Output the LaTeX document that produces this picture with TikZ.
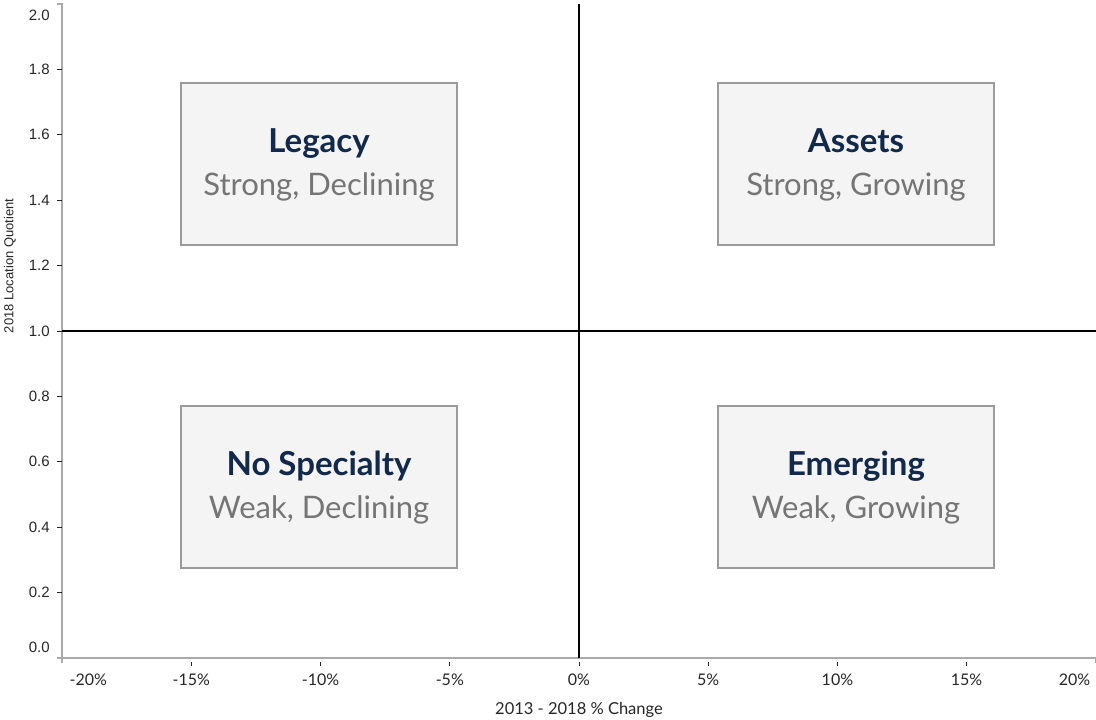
\documentclass[tikz,border=0pt]{standalone}
\usepackage{fontspec}
\setmainfont{Lato}
\newfontfamily\helv{Liberation Sans}
\usepackage{xcolor}
\usepackage{tikz}
\usetikzlibrary{calc}
\definecolor{navy}{HTML}{13294B}
\definecolor{subgray}{HTML}{757575}
\definecolor{axisgray}{HTML}{AAAAAA}
\definecolor{tickdark}{HTML}{262626}
\definecolor{boxfill}{HTML}{F4F4F4}
\definecolor{boxline}{HTML}{9A9A9A}
\tikzset{
  axis/.style={draw=axisgray, line width=1.6pt},
  tickmark/.style={draw=tickdark, line width=0.9pt},
  quadline/.style={draw=black, line width=2.5pt},
  quadbox/.style={draw=boxline, fill=boxfill, line width=1.4pt,
    minimum width=276pt, minimum height=162pt, inner sep=0pt},
  qtitle/.style={text=navy, font=\fontsize{33}{38}\selectfont\bfseries, anchor=base},
  qsub/.style={text=subgray, font=\fontsize{31}{36}\selectfont, anchor=base},
  xlbl/.style={text=tickdark, font=\fontsize{16}{19}\selectfont},
  ylbl/.style={text=tickdark, font=\helv\fontsize{15}{18}\selectfont, anchor=east},
  atitle/.style={text=tickdark, font=\fontsize{16.5}{20}\selectfont}
}

\begin{document}
\begin{tikzpicture}[x=25.84pt, y=327pt]
  \useasboundingbox (-22.407,-0.18654) rectangle (20.007,2.01223);

  % axes with outer ticks
  \draw[axis] ([xshift=-5pt]-20,2) -- (-20,2) -- (-20,0) -- ([xshift=-5pt]-20,0);
  \draw[axis] ([yshift=-5pt]-20,0) -- (-20,0) -- (20,0) -- ([yshift=-5pt]20,0);

  % y ticks
  \foreach \y in {0.2,0.4,...,1.8}
    \draw[tickmark] ([xshift=-5pt]-20,\y) -- (-20,\y);
  \foreach \y/\t in {0.2/0.2,0.4/0.4,0.6/0.6,0.8/0.8,1.0/1.0,1.2/1.2,1.4/1.4,1.6/1.6,1.8/1.8}
    \node[ylbl] (ytick\t) at ([xshift=-9pt]-20,\y) {\t};
  \node[ylbl] (ytop) at ([xshift=-9pt,yshift=-11pt]-20,2) {2.0};
  \node[ylbl] (ybot) at ([xshift=-9pt,yshift=11pt]-20,0) {0.0};

  % x ticks
  \foreach \x in {-15,-10,-5,0,5,10,15}
    \draw[tickmark] ([yshift=-4pt]\x,0) -- ([yshift=-8pt]\x,0);
  \foreach \x/\t in {-15/-15,-10/-10,-5/-5,0/0,5/5,10/10,15/15}
    \node[xlbl] (xtick\t) at ([yshift=-22pt]\x,0) {\t\%};
  \node[xlbl, anchor=west] (xleft) at ([xshift=4pt,yshift=-22pt]-20,0) {-20\%};
  \node[xlbl, anchor=east] (xright) at ([xshift=-2pt,yshift=-22pt]20,0) {20\%};

  % axis titles
  \node[atitle] (xtitle) at ([yshift=-52pt]0,0) {2013 - 2018 \% Change};
  \node[text=tickdark, font=\helv\fontsize{13}{16}\selectfont, rotate=90]
    (ytitle) at (-22.02,1.199) {2018 Location Quotient};

  % quadrant dividers
  \draw[quadline] (0,0) -- (0,2);
  \draw[quadline] (-20,1) -- (20,1);

  % quadrant boxes
  \node[quadbox] (legacy) at (-10.06,1.511) {};
  \node[quadbox] (assets) at (10.72,1.511) {};
  \node[quadbox] (nospec) at (-10.06,0.523) {};
  \node[quadbox] (emerging) at (10.72,0.523) {};

  \node[qtitle] (legacyT) at ([yshift=11pt]legacy.center) {Legacy};
  \node[qsub] (legacyS) at ([yshift=-32pt]legacy.center) {Strong, Declining};
  \node[qtitle] (assetsT) at ([yshift=11pt]assets.center) {Assets};
  \node[qsub] (assetsS) at ([yshift=-32pt]assets.center) {Strong, Growing};
  \node[qtitle] (nospecT) at ([yshift=11pt]nospec.center) {No Specialty};
  \node[qsub] (nospecS) at ([yshift=-32pt]nospec.center) {Weak, Declining};
  \node[qtitle] (emergingT) at ([yshift=11pt]emerging.center) {Emerging};
  \node[qsub] (emergingS) at ([yshift=-32pt]emerging.center) {Weak, Growing};
\end{tikzpicture}
\end{document}
